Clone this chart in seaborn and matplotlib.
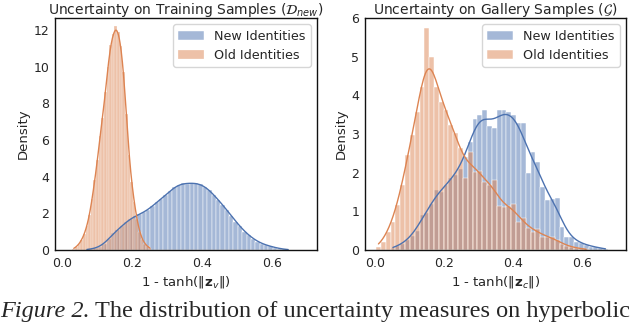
import numpy as np
import pandas as pd
import matplotlib
matplotlib.use("Agg")
import matplotlib.pyplot as plt
import seaborn as sns

# ---------------- data ----------------
# Training samples (D_new): bin start, bin width, bar densities
train_new_start, train_new_width = 0.065, 0.0125
train_new_density = [0.02, 0.05, 0.10, 0.18, 0.35, 0.60, 0.90, 1.10, 1.30, 1.55,
                     1.70, 1.85, 1.95, 2.05, 2.20, 2.40, 2.60, 2.80, 3.00, 3.20,
                     3.45, 3.55, 3.65, 3.62, 3.66, 3.64, 3.60, 3.45, 3.28, 3.00,
                     2.75, 2.45, 2.20, 1.85, 1.55, 1.30, 1.00, 0.80, 0.62, 0.45,
                     0.35, 0.26, 0.20, 0.13, 0.08, 0.04, 0.02]
train_old_start, train_old_width = 0.030, 0.0075
train_old_density = [0.08, 0.18, 0.32, 0.55, 0.85, 1.30, 1.90, 2.80, 3.80, 4.90,
                     6.20, 7.20, 8.60, 10.0, 11.2, 11.8, 12.2, 11.9, 11.1, 9.70,
                     7.40, 5.20, 3.70, 2.60, 1.70, 1.00, 0.60, 0.35, 0.20, 0.10]

# Gallery samples (G)
gal_new_start, gal_new_width = 0.045, 0.014
gal_new_density = [0.05, 0.10, 0.15, 0.25, 0.35, 0.50, 0.90, 0.95, 1.20, 1.55,
                   1.50, 1.68, 1.85, 1.95, 2.10, 2.40, 2.80, 3.40, 3.50, 3.62,
                   3.20, 3.15, 3.62, 3.62, 3.58, 3.49, 3.28, 3.28, 1.98, 2.54,
                   2.28, 1.64, 1.29, 1.33, 1.34, 0.60, 0.34, 0.34, 0.21, 0.17,
                   0.13, 0.09, 0.08, 0.05, 0.02]
gal_old_start, gal_old_width = 0.003, 0.014
gal_old_density = [0.09, 0.21, 0.47, 0.73, 1.16, 1.68, 2.46, 2.97, 3.58, 4.22,
                   5.73, 5.00, 4.22, 3.83, 3.62, 3.23, 3.02, 2.63, 1.86, 2.54,
                   2.02, 2.05, 1.77, 1.68, 1.80, 1.15, 1.10, 1.15, 1.20, 0.72,
                   0.82, 0.57, 0.47, 0.55, 0.34, 0.34, 0.33, 0.26, 0.16, 0.10,
                   0.08, 0.05, 0.03, 0.02]

series_labels = ["New Identities", "Old Identities"]
titles = ["Uncertainty on Training Samples ($\\mathcal{D}_{new}$)",
          "Uncertainty on Gallery Samples ($\\mathcal{G}$)"]
xlabels = ["1 - tanh($\\Vert\\mathbf{z}_v\\Vert$)",
           "1 - tanh($\\Vert\\mathbf{z}_c\\Vert$)"]
caption_a = "Figure 2."
caption_b = "The distribution of uncertainty measures on hyperbolic"

# ---------------- style ----------------
sns.set_theme(style="white")
plt.rcParams["font.family"] = ["DejaVu Sans"]
plt.rcParams["xtick.labelsize"] = 9
plt.rcParams["ytick.labelsize"] = 9
plt.rcParams["axes.edgecolor"] = "#111111"

pal = sns.color_palette("deep")
c_new, c_old = pal[0], pal[1]

fig = plt.figure(figsize=(6.4, 3.22), dpi=100)
ax1 = fig.add_axes([55 / 640, 72 / 322, 262 / 640, 232 / 322])
ax2 = fig.add_axes([365 / 640, 72 / 322, 261 / 640, 232 / 322])


def draw(ax, start, width, dens, color, label, bw):
    dens = np.asarray(dens, dtype=float)
    edges = start + width * np.arange(len(dens) + 1)
    centers = (edges[:-1] + edges[1:]) / 2
    df = pd.DataFrame({"u": centers, "w": dens})
    sns.histplot(data=df, x="u", weights="w", bins=edges.tolist(), stat="count",
                 kde=True, kde_kws={"bw_adjust": bw}, color=color,
                 line_kws={"linewidth": 1.0}, label=label, ax=ax)


ax1.set_xlim(-0.02, 0.7286)
ax1.set_ylim(0, 12.65)
ax2.set_xlim(-0.029, 0.7275)
ax2.set_ylim(0, 6.0)

draw(ax1, train_new_start, train_new_width, train_new_density, c_new, series_labels[0], 0.27)
draw(ax1, train_old_start, train_old_width, train_old_density, c_old, series_labels[1], 0.30)
draw(ax2, gal_new_start, gal_new_width, gal_new_density, c_new, series_labels[0], 0.40)
draw(ax2, gal_old_start, gal_old_width, gal_old_density, c_old, series_labels[1], 0.36)

for ax, title, xl, yt in [(ax1, titles[0], xlabels[0], [0, 2, 4, 6, 8, 10, 12]),
                          (ax2, titles[1], xlabels[1], [0, 1, 2, 3, 4, 5, 6])]:
    ax.set_title(title, fontsize=10, pad=3)
    ax.set_xlabel(xl, fontsize=9.5, labelpad=3)
    ax.set_ylabel("Density", fontsize=9.5, labelpad=3)
    ax.set_xticks([0.0, 0.2, 0.4, 0.6])
    ax.set_xticklabels(["0.0", "0.2", "0.4", "0.6"])
    ax.set_yticks(yt)
    ax.tick_params(axis="both", length=0)
    ax.tick_params(axis="x", pad=5)
    ax.tick_params(axis="y", pad=4)
    for s in ax.spines.values():
        s.set_linewidth(1.0)
    ax.legend(handles=[ax.containers[0], ax.containers[1]], labels=series_labels,
              loc="upper right", fontsize=9.2, borderaxespad=0.5)

# caption below the panels
t1 = fig.text(0.0, 4.5 / 322, caption_a, family="Liberation Serif", style="italic",
              fontsize=17.5, va="baseline", ha="left")
fig.canvas.draw()
bb = t1.get_window_extent(renderer=fig.canvas.get_renderer())
fig.text(bb.x1 / fig.bbox.width + 0.008, 4.5 / 322, caption_b, family="Liberation Serif",
         fontsize=17.5, va="baseline", ha="left")

fig.savefig("out.png", dpi=100)
